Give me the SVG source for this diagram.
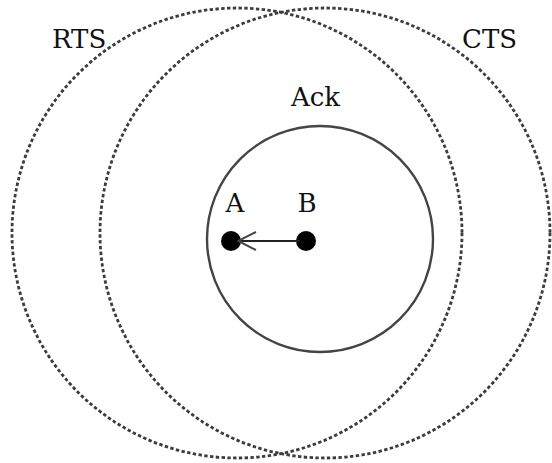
<svg xmlns="http://www.w3.org/2000/svg" width="552" height="463" viewBox="0 0 552 463">
  <style>
    .range { fill: none; stroke: #3c3c3c; stroke-width: 2.8; stroke-dasharray: 3.4 2.4; }
    .ack { fill: none; stroke: #444; stroke-width: 2.4; }
    .node { fill: #000; }
    .lbl { font-family: "DejaVu Serif", "Liberation Serif", serif; font-size: 26px; fill: #111; }
    .edge { stroke: #222; stroke-width: 2; fill: none; }
  </style>
  <defs>
    <marker id="open-arrow" viewBox="0 0 20 22" refX="19" refY="11" markerWidth="20" markerHeight="22" markerUnits="userSpaceOnUse" orient="auto">
      <path d="M1 2 L19 11 L1 20" fill="none" stroke="#444" stroke-width="2"/>
    </marker>
  </defs>

  <rect width="552" height="463" fill="#fff"/>

  <!-- transmission ranges -->
  <g id="rts">
    <circle class="range" cx="237" cy="233" r="225"/>
    <text class="lbl" x="52" y="48">RTS</text>
  </g>
  <g id="cts">
    <circle class="range" cx="325" cy="233" r="225"/>
    <text class="lbl" x="462" y="48">CTS</text>
  </g>
  <g id="ack">
    <circle class="ack" cx="320" cy="239" r="113"/>
    <text class="lbl" x="291" y="106">Ack</text>
  </g>

  <!-- stations -->
  <g id="node-a">
    <circle class="node" cx="231" cy="241" r="10"/>
    <text class="lbl" x="235" y="212" text-anchor="middle">A</text>
  </g>
  <g id="node-b">
    <circle class="node" cx="306" cy="241" r="10"/>
    <text class="lbl" x="307" y="212" text-anchor="middle">B</text>
  </g>

  <g id="connectors">
    <line class="edge" x1="300" y1="241" x2="238" y2="241" marker-end="url(#open-arrow)"/>
  </g>
</svg>
